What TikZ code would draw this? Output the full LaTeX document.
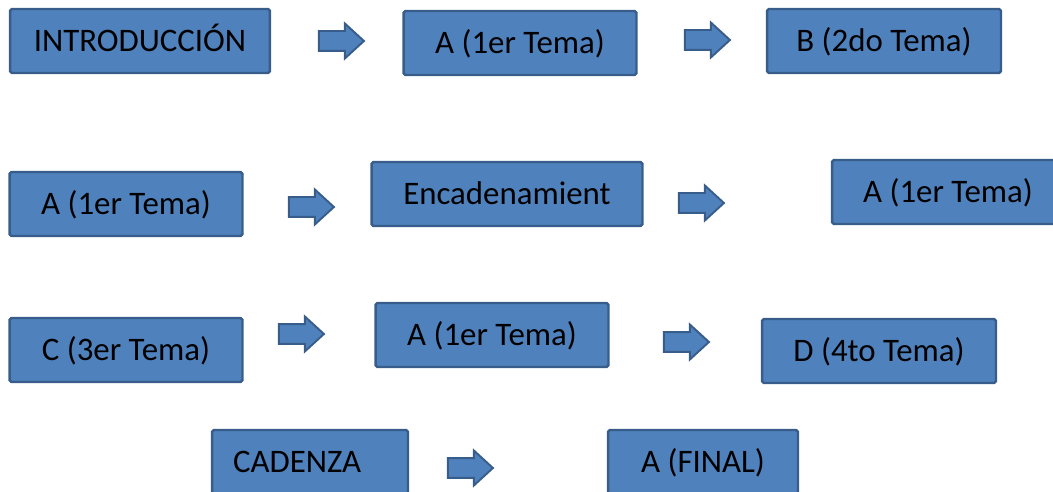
\documentclass[tikz,border=0pt]{standalone}
\usepackage{fontspec}
\setmainfont{Carlito}
\usetikzlibrary{shapes.arrows, positioning}
\definecolor{cajaazul}{HTML}{4F81BD}
\definecolor{bordeazul}{HTML}{385D8A}

\begin{document}
\begin{tikzpicture}[x=0.02cm, y=-0.02cm,
    caja/.style={draw=bordeazul, fill=cajaazul, line width=1.4pt, rounded corners=1pt,
        font=\fontsize{18.7}{22}\selectfont, text height=14pt, text depth=2.6pt,
        inner sep=0pt, minimum height=1.28cm},
    flecha/.style={single arrow, draw=bordeazul, fill=cajaazul, line width=1.1pt,
        inner xsep=0pt, inner ysep=0.18cm, single arrow head extend=0.15cm,
        single arrow tip angle=85, minimum height=0.9cm}]
        \clip (0, 0) rectangle (1053, 492);

        % fila 1
        \node[caja, minimum width=5.2cm] (intro) at (140, 41) {INTRODUCCIÓN};
        \node[caja, minimum width=4.66cm] (temaA1) at (520, 43) {A (1er Tema)};
        \node[caja, minimum width=4.68cm] (temaB) at (884, 41) {B (2do Tema)};
        \node[flecha] (fl1) at (336, 41) {};
        \node[flecha] (fl2) at (702, 40) {};

        % fila 2
        \node[caja, minimum width=4.66cm] (temaA2) at (126, 204) {A (1er Tema)};
        \node[caja, minimum width=5.42cm] (enlace) at (507, 194) {Encadenamient};
        \node[caja, minimum width=4.64cm] (temaA3) at (948, 192) {A (1er Tema)};
        \node[flecha] (fl3) at (306, 207) {};
        \node[flecha] (fl4) at (696, 203) {};

        % fila 3
        \node[caja, minimum width=4.66cm] (temaC) at (126, 350) {C (3er Tema)};
        \node[caja, minimum width=4.66cm] (temaA4) at (492, 335) {A (1er Tema)};
        \node[caja, minimum width=4.68cm] (temaD) at (879, 351) {D (4to Tema)};
        \node[flecha] (fl5) at (296, 334) {};
        \node[flecha] (fl6) at (681, 342) {};

        % fila 4
        \node[caja, inner xsep=0.42cm, text width=3.08cm, align=left] (cadenza) at (310, 462) {CADENZA};
        \node[caja, minimum width=3.8cm] (final) at (703, 462) {A (FINAL)};
        \node[flecha] (fl7) at (465, 468) {};
\end{tikzpicture}
\end{document}
